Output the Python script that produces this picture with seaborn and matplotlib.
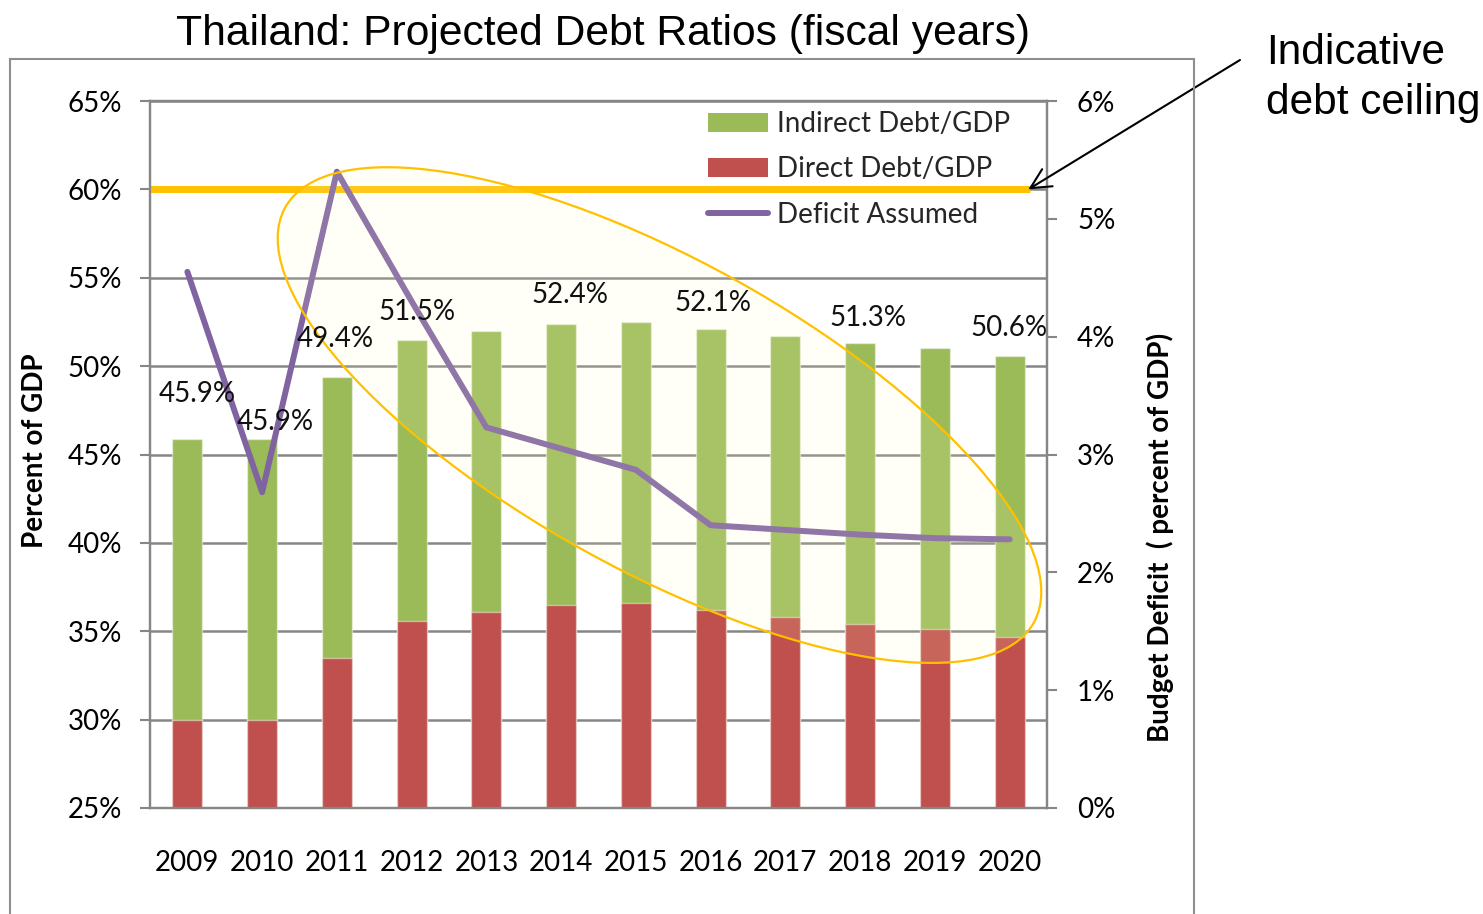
import numpy as np
import pandas as pd
import matplotlib
matplotlib.use("Agg")
import matplotlib.pyplot as plt
import seaborn as sns
from matplotlib.patches import Ellipse, Rectangle, Patch
from matplotlib.lines import Line2D
from matplotlib.transforms import ScaledTranslation
from matplotlib.ticker import FuncFormatter

# ---- data -------------------------------------------------------------
years = ["2009", "2010", "2011", "2012", "2013", "2014",
         "2015", "2016", "2017", "2018", "2019", "2020"]
direct_debt = [30.0, 30.0, 33.5, 35.6, 36.1, 36.5, 36.6, 36.2, 35.8, 35.4, 35.1, 34.7]
indirect_debt = [15.9, 15.9, 15.9, 15.9, 15.9, 15.9, 15.9, 15.9, 15.9, 15.9, 15.9, 15.9]
deficit = [4.55, 2.68, 5.40, 4.30, 3.23, 3.05, 2.87, 2.40, 2.36, 2.32, 2.29, 2.28]
labeled_years = ["2009", "2010", "2011", "2012", "2014", "2016", "2018", "2020"]
debt_ceiling = 60.0

# small nudges (category units, percentage points) for the total labels
label_nudge_x = [0.13, 0.17, -0.02, 0.07, 0.12, 0.03, 0.11, -0.01]
label_nudge_y = [2.55, 0.96, 2.15, 1.58, 1.64, 1.47, 1.41, 1.53]

GREEN = "#9BBB59"
RED = "#C0504D"
PURPLE = "#8064A2"
GOLD = "#FFC000"
GRID = "#868686"

sns.set_theme(style="white")
plt.rcParams["font.family"] = ["Lato", "DejaVu Sans"]

df = pd.DataFrame({"year": years, "direct": direct_debt, "indirect": indirect_debt})
df["total"] = df["direct"] + df["indirect"]

W, H = 1483, 914
fig = plt.figure(figsize=(W / 100, H / 100), dpi=100)
ax = fig.add_axes([150 / W, 1 - 808 / H, 897 / W, 707 / H])

# stacked bars: total (indirect on top) with direct drawn over it
bar_edge = (1, 1, 1, 0.45)
sns.barplot(data=df, x="year", y="total", color=GREEN, saturation=1, width=0.4,
            errorbar=None, edgecolor=bar_edge, linewidth=1, ax=ax, zorder=2)
sns.barplot(data=df, x="year", y="direct", color=RED, saturation=1, width=0.4,
            errorbar=None, edgecolor=bar_edge, linewidth=1, ax=ax, zorder=2)

ax.set_ylim(25, 65)
ax.set_yticks(np.arange(25, 66, 5))
ax.yaxis.set_major_formatter(FuncFormatter(lambda v, p: f"{v:.0f}%"))
ax.grid(axis="y", color=GRID, lw=1.8)
ax.set_axisbelow(True)
for s in ["left", "bottom", "top", "right"]:
    ax.spines[s].set_color(GRID)
    ax.spines[s].set_linewidth(1.6)

ax.set_xticks(range(len(years)))
ax.set_xticklabels(years)
ax.set_xticks(np.arange(-0.5, len(years), 1), minor=True)
ax.tick_params(axis="x", which="major", length=0, pad=30, labelsize=20, labelcolor="black")
ax.tick_params(axis="x", which="minor", length=7.2, width=1.5, color=GRID, direction="out")
ax.tick_params(axis="y", which="major", left=True, length=7.2, width=1.5, color=GRID,
               direction="out", pad=13, labelsize=20, labelcolor="black")
ax.set_xlabel("")
ax.set_ylabel("Percent of GDP", fontsize=20, fontweight="bold", color="black")
ax.yaxis.label.set(va="center", ha="center")
ax.yaxis.set_label_coords(-0.128, 0.505)

# indicative debt ceiling
ax.axhline(debt_ceiling, xmin=0, xmax=(1030 - 150) / 897, color=GOLD, lw=5, zorder=3,
           solid_capstyle="butt")

# deficit on the secondary axis
ax2 = ax.twinx()
sns.lineplot(x=np.arange(len(years)), y=deficit, ax=ax2, color=PURPLE, lw=4.3,
             solid_capstyle="round", solid_joinstyle="round", zorder=3, legend=False)
ax2.set_ylim(0, 6)
ax2.set_yticks(np.arange(0, 7, 1))
ax2.yaxis.set_major_formatter(FuncFormatter(lambda v, p: f"{v:.0f}%"))
ax2.tick_params(axis="y", which="major", right=True, length=7.2, width=1.5, color=GRID,
                direction="out", pad=14.4, labelsize=20, labelcolor="black")
for s in ["left", "bottom", "top", "right"]:
    ax2.spines[s].set_color(GRID)
    ax2.spines[s].set_linewidth(1.6)
ax2.grid(False)
ax2.set_ylabel("Budget Deficit  ( percent of GDP)", fontsize=20, fontweight="bold",
               color="black")
ax2.yaxis.label.set(va="center", ha="center", rotation=90)
ax2.yaxis.set_label_coords(1.126, 0.382)

# highlighted projection period
ellipse = Ellipse((0, 0), 8.56, 3.10, angle=-29,
                  transform=fig.dpi_scale_trans + ScaledTranslation(6.316, 47.23, ax.transData),
                  facecolor=(1.0, 1.0, 0.784, 0.12), edgecolor=GOLD, lw=1.6, zorder=4,
                  clip_on=False)
ax2.add_patch(ellipse)

# total debt labels
for yr, dx, dy in zip(labeled_years, label_nudge_x, label_nudge_y):
    i = years.index(yr)
    tot = df.loc[i, "total"]
    ax2.text(i + dx, tot + dy, f"{tot:.1f}%", transform=ax.transData,
             ha="center", va="center", fontsize=20, color="#111111", zorder=6)

ax.set_xlim(-0.5, len(years) - 0.5)

handles = [Patch(facecolor=GREEN, edgecolor="none"),
           Patch(facecolor=RED, edgecolor="none"),
           Line2D([], [], color=PURPLE, lw=4.3, solid_capstyle="round")]
ax2.legend(handles, ["Indirect Debt/GDP", "Direct Debt/GDP", "Deficit Assumed"],
           loc="upper left", bbox_to_anchor=(708 / W, 1 - 111 / H),
           bbox_transform=fig.transFigure, frameon=False, fontsize=20,
           handlelength=2.16, handleheight=0.65, handletextpad=0.32,
           labelspacing=0.70, borderpad=0, borderaxespad=0)

# arrow to the ceiling line
ax2.annotate("", xy=(11.25, debt_ceiling), xycoords=ax.transData,
             xytext=(1240 / W, 1 - 60 / H), textcoords="figure fraction",
             arrowprops=dict(arrowstyle="->,head_length=0.4,head_width=0.2",
                             mutation_scale=36, lw=1.5, color="black",
                             shrinkA=0, shrinkB=0), zorder=7)

fig.text(1266 / W, 1 - 64 / H, "Indicative", fontsize=30.5, family="Liberation Sans",
         ha="left", va="baseline", color="black")
fig.text(1266 / W, 1 - 114 / H, "debt ceiling", fontsize=30.5, family="Liberation Sans",
         ha="left", va="baseline", color="black")

fig.text(603 / W, 1 - 45 / H, "Thailand: Projected Debt Ratios (fiscal years)",
         fontsize=30.7, family="Liberation Sans", ha="center", va="baseline", color="black")

# chart frame
fig.add_artist(Rectangle((10 / W, -0.05), (1194 - 10) / W, (1 - 59 / H) + 0.05,
                         transform=fig.transFigure, fill=False, edgecolor="#8E8E8E",
                         lw=1.5, clip_on=False))

fig.savefig("out.png", dpi=100)
